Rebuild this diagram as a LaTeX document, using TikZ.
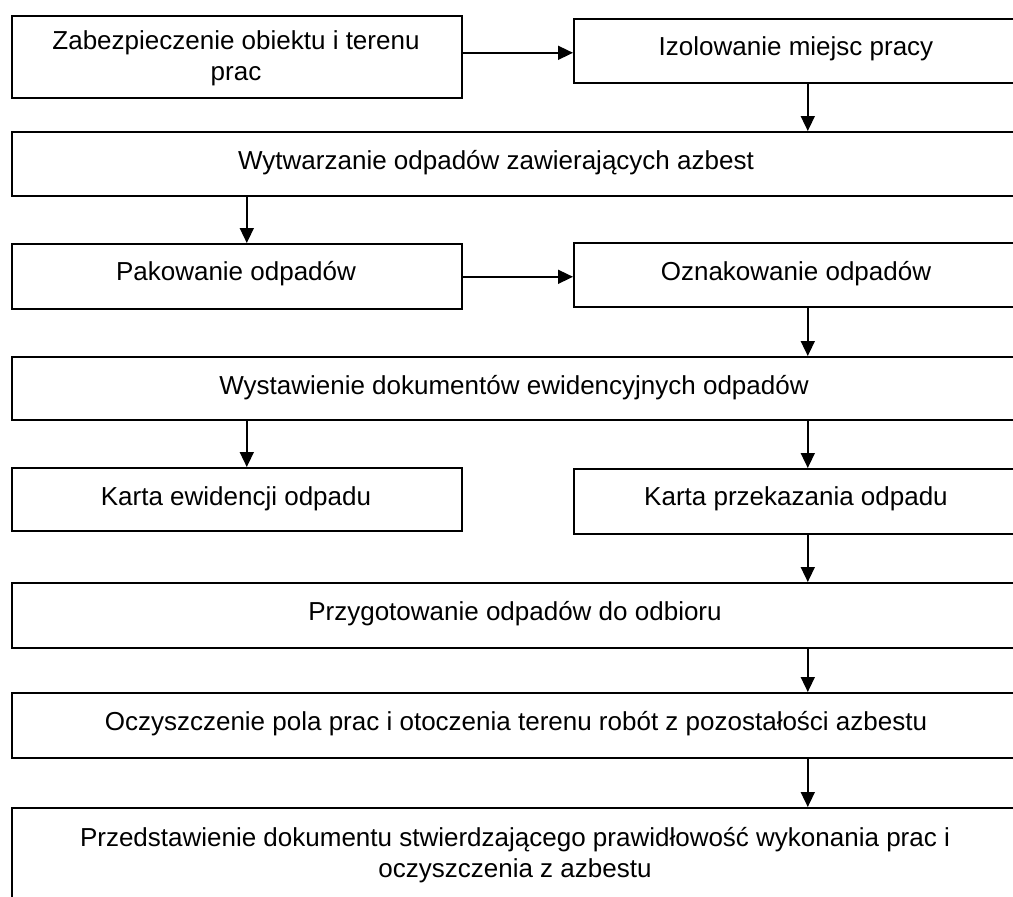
\documentclass[tikz,border=0pt]{standalone}
\usepackage{fontspec}
\setmainfont{Liberation Sans}
\usetikzlibrary{arrows.meta}
\begin{document}
\begin{tikzpicture}[x=1pt,y=-1pt,
  box/.style={draw=black,line width=1.6pt,inner sep=0pt,anchor=north west},
  lbl/.style={inner sep=0pt,anchor=base,font=\fontsize{26}{31}\selectfont},
  mlbl/.style={inner sep=0pt,align=center,font=\fontsize{26}{31}\selectfont},
  arr/.style={line width=1.6pt,-{Triangle[length=15pt,width=14pt]}}]
\useasboundingbox (0,0) rectangle (1013,897);
\clip (0,0) rectangle (1013,897);
% boxes
\node[box,minimum width=450,minimum height=82] (b1) at (11,15) {};
\node[box,minimum width=468,minimum height=64] (b2) at (573,18) {};
\node[box,minimum width=1030,minimum height=64] (b3) at (11,131) {};
\node[box,minimum width=450,minimum height=65] (b4) at (11,243) {};
\node[box,minimum width=468,minimum height=64] (b5) at (573,242) {};
\node[box,minimum width=1030,minimum height=63] (b6) at (11,356) {};
\node[box,minimum width=450,minimum height=63] (b7) at (11,467) {};
\node[box,minimum width=468,minimum height=65] (b8) at (573,468) {};
\node[box,minimum width=1030,minimum height=65] (b9) at (11,582) {};
\node[box,minimum width=1030,minimum height=65] (b10) at (11,692) {};
\node[box,minimum width=1030,minimum height=120] (b11) at (11,807) {};
% texts
\node[mlbl] (t1) at (236,58) {Zabezpieczenie obiektu i terenu\\prac};
\node[lbl] (t2) at (796,55) {Izolowanie miejsc pracy};
\node[lbl] (t3) at (496,169) {Wytwarzanie odpadów zawierających azbest};
\node[lbl] (t4) at (236,280) {Pakowanie odpadów};
\node[lbl] (t5) at (796,280) {Oznakowanie odpadów};
\node[lbl] (t6) at (514,394) {Wystawienie dokumentów ewidencyjnych odpadów};
\node[lbl] (t7) at (236,505) {Karta ewidencji odpadu};
\node[lbl] (t8) at (796,505) {Karta przekazania odpadu};
\node[lbl] (t9) at (515,620) {Przygotowanie odpadów do odbioru};
\node[lbl] (t10) at (516,730) {Oczyszczenie pola prac i otoczenia terenu robót z pozostałości azbestu};
\node[mlbl] (t11) at (515,855) {Przedstawienie dokumentu stwierdzającego prawidłowość wykonania prac i\\oczyszczenia z azbestu};
% connectors
\draw[arr] ([yshift=-2pt]b1.east |- b2.west) -- ([yshift=-2pt]b2.west);
\draw[arr] (b2.south) -- (b3.north -| b2.south);
\draw[arr] ([xshift=10pt]b4.north |- b3.south) -- ([xshift=10pt]b4.north);
\draw[arr] ([yshift=-2pt]b4.east |- b5.west) -- ([yshift=-2pt]b5.west);
\draw[arr] (b5.south) -- (b6.north -| b5.south);
\draw[arr] ([xshift=10pt]b7.north |- b6.south) -- ([xshift=10pt]b7.north);
\draw[arr] (b8.north |- b6.south) -- (b8.north);
\draw[arr] (b8.south) -- (b9.north -| b8.south);
\draw[arr] (b9.south -| b8.south) -- (b10.north -| b8.south);
\draw[arr] (b10.south -| b8.south) -- (b11.north -| b8.south);
\end{tikzpicture}
\end{document}
